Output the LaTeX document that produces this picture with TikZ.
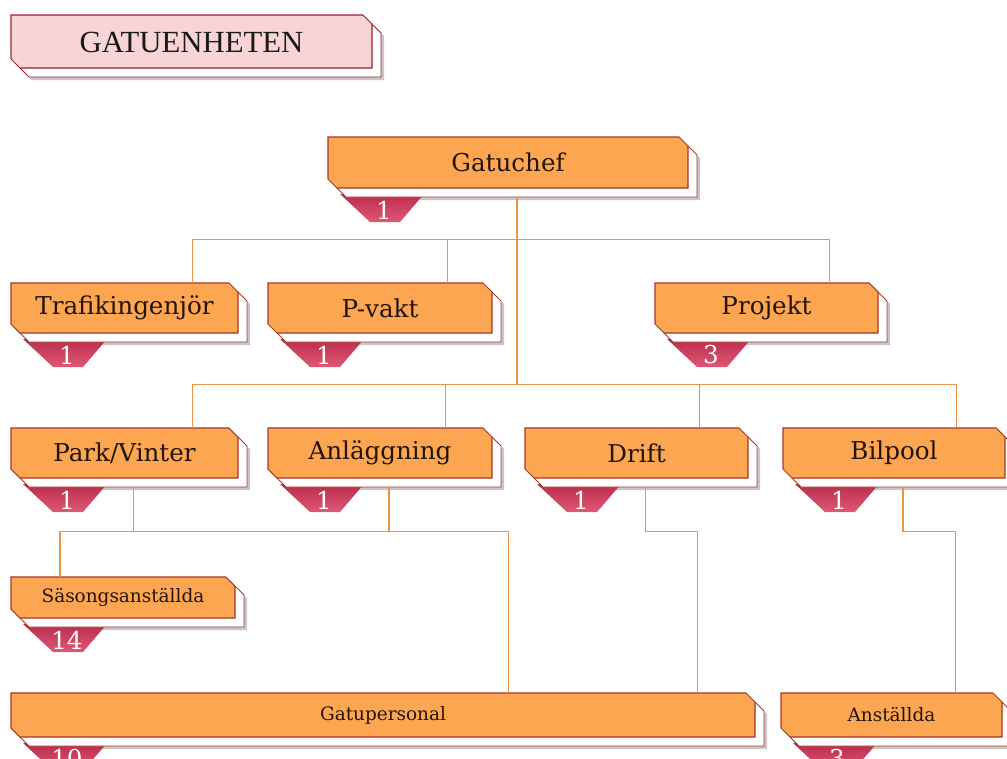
\documentclass[tikz,border=0pt]{standalone}
\usepackage{fontspec}
\newfontfamily\labelfont{DejaVu Serif}
\newfontfamily\titlefont{Liberation Serif}
\usetikzlibrary{calc}

\definecolor{boxfill}{RGB}{253,166,82}
\definecolor{boxedge}{RGB}{165,55,40}
\definecolor{tabtop}{RGB}{185,45,75}
\definecolor{tabbot}{RGB}{224,88,118}
\definecolor{linkc}{RGB}{234,150,72}
\definecolor{titlefill}{RGB}{248,212,212}
\definecolor{titleedge}{RGB}{150,35,50}
\definecolor{inkc}{RGB}{35,20,12}

\tikzset{
  unit label/.style={font=\labelfont\fontsize{14}{16}\selectfont, text=inkc, inner sep=0pt},
  small label/.style={font=\labelfont\fontsize{10.5}{12}\selectfont, text=inkc, inner sep=0pt},
  count label/.style={font=\labelfont\fontsize{14}{16}\selectfont, text=white, inner sep=0pt},
  title label/.style={font=\titlefont\fontsize{17.5}{20}\selectfont, text=black!90, inner sep=0pt},
  link/.style={draw=linkc, line width=.7pt},
}

\def\cc{9}
% box: [style]{name}{left}{top}{right}{bottom}{text}{count}
\newcommand{\unitbox}[8][unit label]{%
  \fill[black, opacity=.22] (#3+\cc+3,#4+\cc+3) -- (#5+3,#4+\cc+3) -- (#5+\cc+3,#4+2*\cc+3)
    -- (#5+\cc+3,#6+\cc+3) -- (#3+2*\cc+3,#6+\cc+3) -- (#3+\cc+3,#6+3) -- cycle;
  \shade[top color=tabtop, bottom color=tabbot] (#3+12,#6+\cc-3) -- (#3+96,#6+\cc-3)
    -- (#3+72,#6+34) -- (#3+42,#6+34) -- cycle;
  \node[count label] (#2-count) at (#3+56,#6+22) {#8};
  \filldraw[fill=white, draw=boxedge, line width=.5pt] (#3+\cc,#4+\cc) -- (#5,#4+\cc) -- (#5+\cc,#4+2*\cc)
    -- (#5+\cc,#6+\cc) -- (#3+2*\cc,#6+\cc) -- (#3+\cc,#6) -- cycle;
  \filldraw[fill=boxfill, draw=boxedge, line width=.6pt] (#3,#4) -- (#5-\cc,#4) -- (#5,#4+\cc)
    -- (#5,#6) -- (#3+\cc,#6) -- (#3,#6-\cc) -- cycle;
  \node[#1, minimum width={(#5-#3)*0.02cm}, minimum height={(#6-#4)*0.02cm}] (#2)
    at ({(#3+#5)/2},{(#4+#6)/2}) {#7};
  \coordinate (#2-out) at ({(#3+#5)/2+\cc},{#6+\cc});
}

\begin{document}
\begin{tikzpicture}[x=0.02cm, y=-0.02cm]
  \fill[white] (0,0) rectangle (1007,758);
  \useasboundingbox (0,0) rectangle (1007,758);

  %%% title
  \fill[black, opacity=.22] (23,27) -- (375,27) -- (384,36) -- (384,80) -- (32,80) -- (23,71) -- cycle;
  \filldraw[fill=white, draw=titleedge, line width=.5pt] (20,24) -- (372,24) -- (381,33)
    -- (381,77) -- (29,77) -- (20,68) -- cycle;
  \filldraw[fill=titlefill, draw=titleedge, line width=.6pt] (11,15) -- (363,15) -- (372,24)
    -- (372,68) -- (20,68) -- (11,59) -- cycle;
  \node[title label] (title) at (191.5,42) {GATUENHETEN};

  %%% boxes
  \unitbox{gatuchef}{328}{137}{688}{188}{Gatuchef}{1}

  \unitbox{trafik}{11}{283}{238}{333}{Trafikingenjör}{1}
  \unitbox{pvakt}{268}{283}{492}{333}{P-vakt}{1}
  \unitbox{projekt}{655}{283}{878}{333}{Projekt}{3}

  \unitbox{park}{11}{428}{238}{478}{Park/Vinter}{1}
  \unitbox{anlagg}{268}{428}{492}{478}{Anläggning}{1}
  \unitbox{drift}{525}{428}{748}{478}{Drift}{1}
  \unitbox{bilpool}{783}{428}{1005}{478}{Bilpool}{1}

  \unitbox[small label]{sasong}{11}{577}{235}{618}{Säsongsanställda}{14}
  \unitbox[small label]{gatupers}{11}{693}{755}{737}{Gatupersonal}{10}
  \unitbox[small label]{anstallda}{781}{693}{1002}{737}{Anställda}{3}

  %%% entry points
  \coordinate (trafik-in) at ($(trafik.north west)!.8!(trafik.north east)$);
  \coordinate (pvakt-in) at ($(pvakt.north west)!.8!(pvakt.north east)$);
  \coordinate (projekt-in) at ($(projekt.north west)!.78!(projekt.north east)$);
  \coordinate (park-in) at ($(park.north west)!.8!(park.north east)$);
  \coordinate (anlagg-in) at ($(anlagg.north west)!.79!(anlagg.north east)$);
  \coordinate (drift-in) at ($(drift.north west)!.78!(drift.north east)$);
  \coordinate (bilpool-in) at ($(bilpool.north west)!.78!(bilpool.north east)$);
  \coordinate (sasong-in) at ($(sasong.north west)!.22!(sasong.north east)$);
  \coordinate (gatupers-in) at ($(gatupers.north west)!.668!(gatupers.north east)$);
  \coordinate (gatupers-in2) at ($(gatupers.north west)!.922!(gatupers.north east)$);
  \coordinate (anstallda-in) at ($(anstallda.north west)!.79!(anstallda.north east)$);

  \coordinate (bus-a) at ($(gatuchef-out)!.5!(trafik-in)$);
  \coordinate (bus-b) at ($(trafik-out)!.5!(park-in)$);
  \coordinate (bus-c) at ($(park-out)!.5!(sasong-in)$);

  %%% links
  \draw[link] (gatuchef-out) -- (gatuchef-out |- bus-b);
  \draw[link] (trafik-in) |- (projekt-in |- bus-a) -- (projekt-in);
  \draw[link] (pvakt-in) -- (pvakt-in |- bus-a);

  \draw[link] (park-in) |- (bilpool-in |- bus-b) -- (bilpool-in);
  \draw[link] (anlagg-in) -- (anlagg-in |- bus-b);
  \draw[link] (drift-in) -- (drift-in |- bus-b);

  \draw[link] (park-out) -- (park-out |- bus-c);
  \draw[link] (anlagg-out) -- (anlagg-out |- bus-c);
  \draw[link] (sasong-in) |- (gatupers-in |- bus-c) -- (gatupers-in);
  \draw[link] (drift-out) |- (gatupers-in2 |- bus-c) -- (gatupers-in2);
  \draw[link] (bilpool-out) |- (anstallda-in |- bus-c) -- (anstallda-in);
\end{tikzpicture}
\end{document}
